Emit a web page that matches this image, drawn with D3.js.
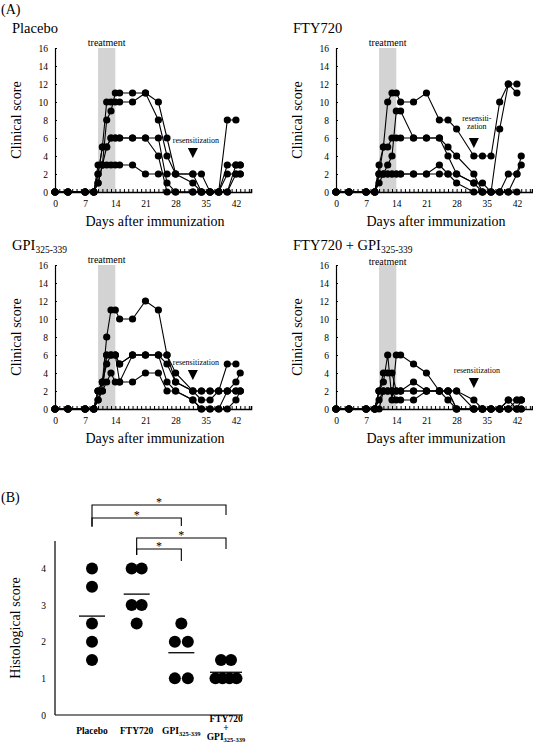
<!DOCTYPE html>
<html><head><meta charset="utf-8">
<script src="https://cdn.jsdelivr.net/npm/d3@7"></script>
<style>body{margin:0;background:#fff}svg, svg text{font-family:"Liberation Serif","Times New Roman","DejaVu Serif",serif !important}</style>
</head><body><svg id="c" width="533" height="746"></svg>
<script>
// ---------- DATA ----------
const days = [0,3,7,9,10,11,12,13,14,15,18,21,24,26,28,32,34,36,38,40,42,43];
const dayTicks = [0,7,14,21,28,35,42];
const scoreTicks = [0,2,4,6,8,10,12,14,16];

const placebo = [
  [0,0,0,0,2,5,10,10,10,10,10,11,10,6,2,2,2,0,0,8,8,null],
  [0,0,0,0,1,3,8,9,11,11,11,11,8,4,2,1,0,0,0,3,3,3],
  [0,0,0,0,2,5,5,6,6,6,6,6,6,1,0,0,0,0,0,2,2,2],
  [0,0,0,0,3,3,3,3,3,3,3,2,2,2,2,2,0,0,0,0,2,2],
  [0,0,0,0,1,3,5,6,6,6,6,6,4,0,0,0,0,0,0,0,3,3]
];
const fty720 = [
  [0,0,0,0,3,5,10,11,11,10,10,11,8,8,7,4,4,4,10,12,12,null],
  [0,0,0,0,1,2,3,4,9,9,6,6,6,4,2,1,0,0,7,12,11,null],
  [0,0,0,0,2,5,5,6,6,6,6,6,6,5,4,2,0,0,0,0,2,4],
  [0,0,0,0,2,2,2,2,2,2,2,2,3,2,1,0,0,0,0,2,2,3],
  [0,0,0,0,2,2,2,2,2,2,2,2,2,2,2,1,1,0,0,0,0,null]
];
const gpi = [
  [0,0,0,0,1,3,8,11,11,10,10,12,11,6,3,2,2,2,2,2,2,2],
  [0,0,0,0,2,3,6,6,6,5,6,6,6,5,3,2,1,1,2,5,5,null],
  [0,0,0,0,2,3,5,6,6,3,6,6,6,3,2,1,0,0,0,2,3,4],
  [0,0,0,0,2,2,3,4,3,3,3,4,4,2,2,1,0,0,0,0,1,2],
  [0,0,0,0,1,2,6,6,6,5,6,6,6,6,4,2,2,2,2,2,2,2]
];
const combo = [
  [0,0,0,0,2,3,6,1,6,6,5,4,2,2,0,0,0,0,0,1,1,1],
  [0,0,0,0,2,4,4,4,2,2,3,2,2,2,2,1,0,0,0,0,1,1],
  [0,0,0,0,1,2,2,2,1,1,1,2,2,1,0,0,0,0,0,0,0,0],
  [0,0,0,0,2,2,2,2,2,2,2,2,2,2,2,0,0,0,0,0,0,0],
  [0,0,0,0,0,2,2,2,2,2,2,2,2,2,0,0,0,0,0,1,0,1]
];
const treatmentDays = [10,14];
const resensitizationDay = 32;

const histoCategories = ["Placebo","FTY720","GPI","FTY720+GPI"];
const histoPlacebo = [4,3.5,2.5,2,1.5];
const histoFTY = [4,4,3,3,2.5];
const histoGPI = [2.5,2,2,1,1];
const histoCombo = [1.5,1.5,1,1,1,1];
const histoTicks = [0,1,2,3,4];
const comparisons = [[0,3],[0,2],[1,3],[1,2]];

// ---------- DRAW ----------
const FONT = '"Liberation Serif","Times New Roman","DejaVu Serif",serif';
const svg = d3.select("#c");
svg.append("rect").attr("width",533).attr("height",746).attr("fill","#fff");

svg.append("text").attr("x",1).attr("y",14).attr("font-size",14).text("(A)");

function panel(ox, oy, series, title, titleSub, resLines, resLabelDy, resArrowTop, trDy){
  const g = svg.append("g").attr("transform",`translate(${ox},${oy})`);
  const x = d3.scaleLinear().domain([0,45.5]).range([0,196]);
  const y = d3.scaleLinear().domain([0,16]).range([144,0]);

  const t = svg.append("text").attr("x",ox-43).attr("y",oy-15).attr("font-size",14.5);
  t.append("tspan").text(title);
  if(titleSub) t.append("tspan").attr("font-size",9.5).attr("dy",3).text(titleSub);

  g.append("rect").attr("x",x(treatmentDays[0])).attr("width",x(treatmentDays[1])-x(treatmentDays[0]))
   .attr("y",y(16)).attr("height",y(0)-y(16)).attr("fill","#d3d3d3");
  g.append("text").attr("x",x(12)).attr("y",y(16)-2+trDy).attr("text-anchor","middle").attr("font-size",10).text("treatment");

  const xa = g.append("g").attr("transform",`translate(0,${y(0)})`)
    .call(d3.axisBottom(x).tickValues(d3.range(0,46)).tickSize(-3).tickFormat(""));
  xa.select(".domain").attr("stroke-width",1.6);
  const xl = g.append("g").attr("transform",`translate(0,${y(0)})`)
    .call(d3.axisBottom(x).tickValues(dayTicks).tickSize(0).tickPadding(8));
  xl.select(".domain").remove();
  xl.selectAll("text").attr("font-size",9.5).attr("font-family",FONT);
  const ya = g.append("g").call(d3.axisLeft(y).tickValues(scoreTicks).tickSizeInner(-2).tickSizeOuter(0).tickPadding(7));
  ya.selectAll("text").attr("font-size",9.5).attr("font-family",FONT);
  ya.select(".domain").attr("stroke-width",1.2);

  g.append("text").attr("transform",`translate(-34,72) rotate(-90)`).attr("text-anchor","middle")
    .attr("font-size",14).text("Clinical score");
  g.append("text").attr("x",100).attr("y",y(0)+34).attr("text-anchor","middle")
    .attr("font-size",14).text("Days after immunization");

  const rx = x(resensitizationDay);
  g.append("path").attr("d",`M${rx-5},${resArrowTop}L${rx+5},${resArrowTop}L${rx},${resArrowTop+10}Z`).attr("fill","#000");
  resLines.forEach((s,i)=>{
    g.append("text").attr("x",rx+3).attr("y",resArrowTop+resLabelDy+i*8).attr("text-anchor","middle")
      .attr("font-size",8).text(s);
  });

  const line = d3.line().defined(d=>d[1]!==null).x(d=>x(d[0])).y(d=>y(d[1]));
  series.forEach(vals=>{
    const pts = days.map((d,i)=>[d,vals[i]]);
    g.append("path").datum(pts).attr("d",line).attr("fill","none").attr("stroke","#000").attr("stroke-width",1.1);
    g.selectAll(null).data(pts.filter(p=>p[1]!==null)).join("circle")
      .attr("cx",p=>x(p[0])).attr("cy",p=>y(p[1])).attr("r",3.6).attr("fill","#000");
  });
}

panel(55,48,placebo,"Placebo",null,["resensitization"],-5,100,0);
panel(336,48,fty720,"FTY720",null,["resensiti-","zation"],-17,90,0);
panel(55,265,gpi,"GPI","325-339",["resensitization"],-5,105,0);
panel(336,265,combo,"FTY720 + GPI","325-339",["resensitization"],-5,113,2);

// ---------- PANEL B ----------
svg.append("text").attr("x",1).attr("y",502).attr("font-size",14).text("(B)");
const bx = d3.scalePoint().domain(histoCategories).range([92,226]);
const by = d3.scaleLinear().domain([0,4.75]).range([715,541]);
const gb = svg.append("g");
gb.append("line").attr("x1",55).attr("x2",55).attr("y1",by(4.75)).attr("y2",by(0)).attr("stroke","#000").attr("stroke-width",1.2);
gb.append("line").attr("x1",55).attr("x2",243).attr("y1",by(0)).attr("y2",by(0)).attr("stroke","#000").attr("stroke-width",1.2);
const yb = gb.append("g").attr("transform","translate(55,0)")
  .call(d3.axisLeft(by).tickValues(histoTicks).tickFormat(d3.format("d")).tickSize(0).tickPadding(9));
yb.select(".domain").remove();
yb.selectAll("text").attr("font-size",9.5).attr("font-family",FONT);
svg.append("text").attr("transform","translate(20,628) rotate(-90)").attr("text-anchor","middle")
  .attr("font-size",14).text("Histological score");

const groups = [histoPlacebo,histoFTY,histoGPI,histoCombo];
groups.forEach((vals,gi)=>{
  const cx = bx(histoCategories[gi]);
  const counts = d3.rollup(vals,v=>v.length,v=>v);
  const seen = new Map();
  vals.forEach(v=>{
    const n = counts.get(v); const k = seen.get(v)||0; seen.set(v,k+1);
    const sp = n>=4 ? 7 : (gi===2 ? 13 : 10);
    gb.append("circle").attr("cx",cx+(k-(n-1)/2)*sp).attr("cy",by(v)).attr("r",6).attr("fill","#000");
  });
  const m = d3.mean(vals);
  const hw = gi===3 ? 16 : 13;
  gb.append("line").attr("x1",cx-hw).attr("x2",cx+hw).attr("y1",by(m)).attr("y2",by(m)).attr("stroke","#000").attr("stroke-width",1.3);
});

const lab = [["Placebo",null],["FTY720",null],["GPI","325-339"]];
lab.forEach((l,i)=>{
  const t = svg.append("text").attr("x",bx(histoCategories[i])).attr("y",734).attr("text-anchor","middle")
    .attr("font-size",9.5).attr("font-weight","bold");
  t.append("tspan").text(l[0]);
  if(l[1]) t.append("tspan").attr("font-size",6.5).attr("dy",2).text(l[1]);
});
const cc = bx(histoCategories[3]);
svg.append("text").attr("x",cc).attr("y",722).attr("text-anchor","middle").attr("font-size",9.5).attr("font-weight","bold").text("FTY720");
svg.append("text").attr("x",cc).attr("y",731).attr("text-anchor","middle").attr("font-size",9.5).attr("font-weight","bold").text("+");
const t4 = svg.append("text").attr("x",cc).attr("y",740).attr("text-anchor","middle").attr("font-size",9.5).attr("font-weight","bold");
t4.append("tspan").text("GPI"); t4.append("tspan").attr("font-size",6.5).attr("dy",2).text("325-339");

const brY = [505,518,538,549];
const brDrop = [[22,10],[8,8],[17,11],[6,12]];
comparisons.forEach((c,i)=>{
  const x1 = bx(histoCategories[c[0]]), x2 = bx(histoCategories[c[1]]), yy = brY[i];
  gb.append("path").attr("d",`M${x1},${yy+brDrop[i][0]}V${yy}H${x2}V${yy+brDrop[i][1]}`)
    .attr("fill","none").attr("stroke","#000").attr("stroke-width",1.1);
  gb.append("text").attr("x",(x1+x2)/2).attr("y",yy+1).attr("text-anchor","middle").attr("font-size",12).text("*");
});
</script></body></html>
